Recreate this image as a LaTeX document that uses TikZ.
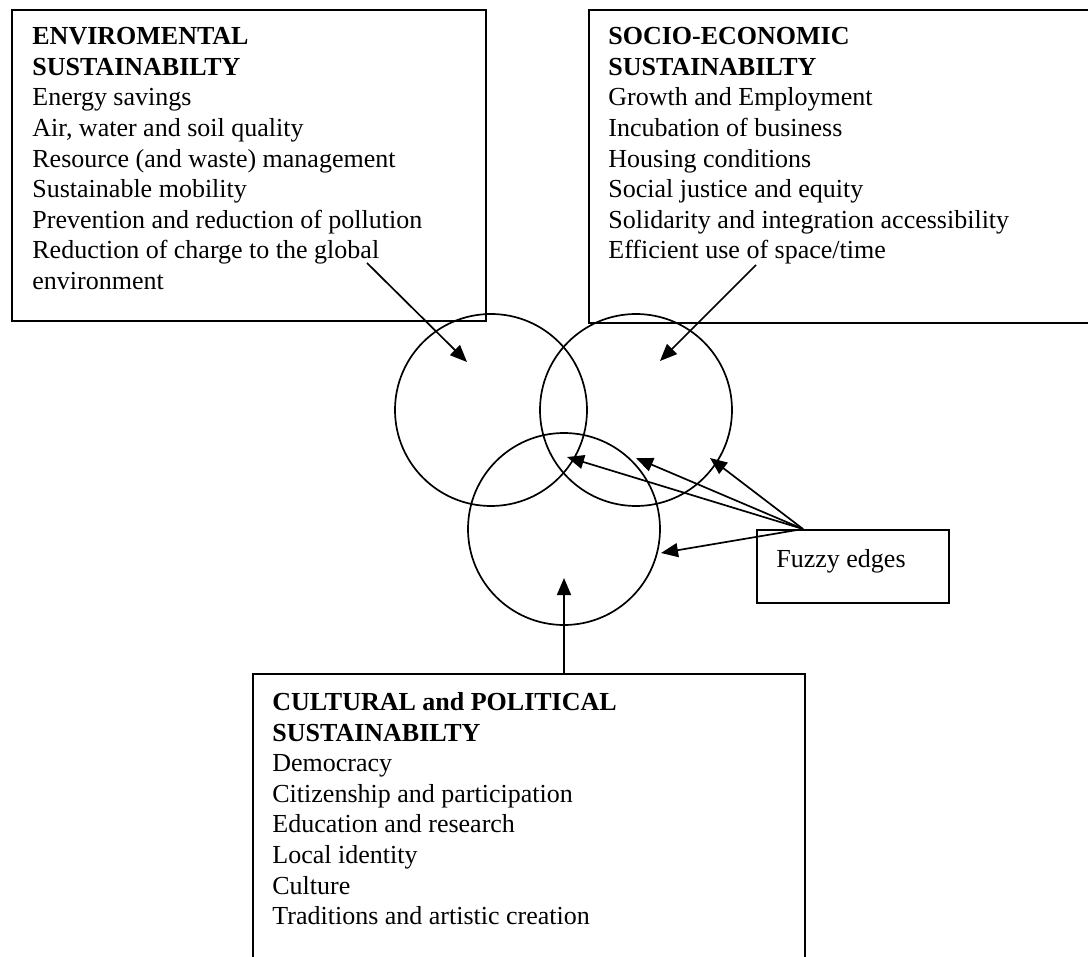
\documentclass[tikz,border=0pt]{standalone}
\usepackage{fontspec}
\setmainfont{Liberation Serif}
\usetikzlibrary{arrows.meta,positioning}
\tikzset{
  panel/.style={draw, line width=1pt, inner sep=0pt, anchor=north west},
  itemlist/.style={inner sep=0pt, anchor=north west, align=left, font=\fontsize{13pt}{15.3pt}\selectfont},
  ring/.style={draw, circle, line width=0.85pt, minimum size=96pt, inner sep=0pt},
  pointer/.style={line width=0.85pt, -{Triangle[length=8.5pt,width=7pt]}}
}
\begin{document}
\begin{tikzpicture}[x=0.5pt,y=-0.5pt]
        \clip (0,0) rectangle (1088,957);
        \fill[white] (0,0) rectangle (1088,957);
        \node[panel, minimum width=237pt, minimum height=155.5pt] (env) at (11,9) {};
        \node[panel, minimum width=256pt, minimum height=156.5pt] (soc) at (588,9) {};
        \node[panel, minimum width=276pt, minimum height=160pt] (cult) at (252,673) {};
        \node[panel, minimum width=96pt, minimum height=36.5pt] (fuzzy) at (756,529) {};
        \node[itemlist] (envtxt) at (32,27) {\textbf{ENVIROMENTAL}\\\textbf{SUSTAINABILTY}\\Energy savings\\Air, water and soil quality\\Resource (and waste) management\\Sustainable mobility\\Prevention and reduction of pollution\\Reduction of charge to the global\\environment};
        \node[itemlist] (soctxt) at (608,27) {\textbf{SOCIO-ECONOMIC}\\\textbf{SUSTAINABILTY}\\Growth and Employment\\Incubation of business\\Housing conditions\\Social justice and equity\\Solidarity and integration accessibility\\Efficient use of space/time};
        \node[itemlist] (culttxt) at (272,692) {\textbf{CULTURAL and POLITICAL}\\\textbf{SUSTAINABILTY}\\Democracy\\Citizenship and participation\\Education and research\\Local identity\\Culture\\Traditions and artistic creation};
        \node[itemlist] (fuzzytxt) at (776,549) {Fuzzy edges};
        \node[ring] (envring) at (491,410) {};
        \node[ring] (socring) at (636,410) {};
        \node[ring] (cultring) at (564,529) {};
        \coordinate (envfrom) at (367,263);
        \coordinate (socfrom) at (756,265);
        \coordinate (cultfrom) at (564,673);
        \coordinate (fzfrom) at (803,529);
        \coordinate (envtip) at (467,362);
        \coordinate (soctip) at (660,361);
        \coordinate (culttip) at (564,578);
        \coordinate (fztipa) at (567,457);
        \coordinate (fztipb) at (636,458);
        \coordinate (fztipc) at (710,458);
        \coordinate (fztipd) at (661,553);
        \draw[pointer] (envfrom) -- (envtip);
        \draw[pointer] (socfrom) -- (soctip);
        \draw[pointer] (cultfrom) -- (culttip);
        \foreach \t in {fztipa,fztipb,fztipc,fztipd}
          \draw[pointer] (fzfrom) -- (\t);
        \end{tikzpicture}
\end{document}
